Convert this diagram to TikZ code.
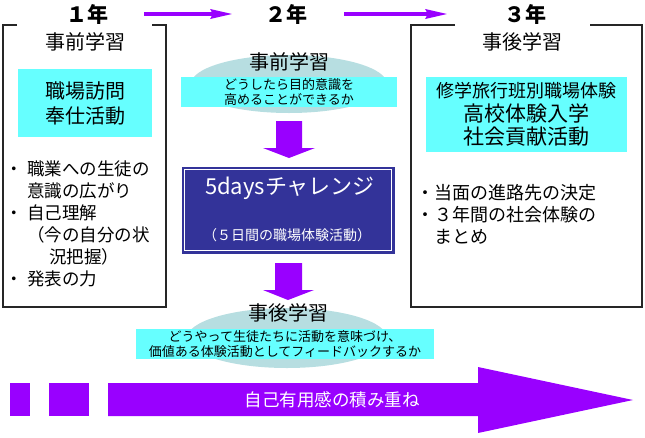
\documentclass[tikz,border=0pt]{standalone}
\usepackage{fontspec}
\setmainfont{Noto Sans CJK JP}
\usetikzlibrary{arrows.meta,shapes.geometric}
\definecolor{flowpurple}{HTML}{9900FF}
\definecolor{cardcyan}{HTML}{66FFFF}
\definecolor{ovalblue}{HTML}{B7DEE1}
\definecolor{boxnavy}{HTML}{333399}
\newcommand\itm{\makebox[22pt][l]{・}}
\newcommand\ind{\hspace*{22pt}}
\begin{document}
\begin{tikzpicture}[x=1pt,y=-1pt,
    year/.style={font=\bfseries\fontsize{21}{24}\selectfont},
    head/.style={font=\fontsize{20}{24}\selectfont},
    card/.style={fill=cardcyan,inner sep=0pt,align=center},
    oval/.style={ellipse,fill=ovalblue,inner sep=0pt},
    frame/.style={line width=1.2pt,black!85},
    link/.style={flowpurple,line width=4pt,-{Stealth[length=22pt,width=9pt,inset=2pt]}},
    list/.style={anchor=north west,inner sep=0pt,align=left}]
  \useasboundingbox (0,0) rectangle (645,437);
  % years
  \node[year] (y1) at (87,14) {１年};
  \node[year] (y2) at (286,14) {２年};
  \node[year] (y3) at (525,14) {３年};
  \coordinate (a1) at (144,14);
  \coordinate (b1) at (233,14);
  \coordinate (a2) at (344,14);
  \coordinate (b2) at (448,14);
  \draw[link] (a1) -- (b1);
  \draw[link] (a2) -- (b2);
  % first year
  \draw[frame] (17,25) -- (3,25) -- (3,307) -- (166,307) -- (166,25) -- (152,25);
  \node[head] (pre1) at (85,42) {事前学習};
  \node[card,minimum width=134pt,minimum height=68pt,
        font=\fontsize{20}{25}\selectfont] (c1) at (85,103) {職場訪問\\奉仕活動};
  \node[list,font=\fontsize{17.5}{22}\selectfont] (l1) at (5,161)
    {\itm 職業への生徒の\\\ind 意識の広がり\\\itm 自己理解\\\ind （今の自分の状\\\ind\ind 況把握）\\\itm 発表の力};
  % second year
  \node[oval,minimum width=196pt,minimum height=58pt] (e1) at (289,84) {};
  \node[head] (pre2) at (289,62) {事前学習};
  \node[card,minimum width=216pt,minimum height=30pt,
        font=\fontsize{13}{15}\selectfont] (c2) at (289,92) {どうしたら目的意識を\\高めることができるか};
  \fill[flowpurple] (276,121) -- (302,121) -- (302,148) -- (315,148) -- (289,158)
    -- (263,148) -- (276,148) -- cycle;
  \node[fill=boxnavy,draw=boxnavy,minimum width=212pt,minimum height=86pt] (days) at (288,210) {};
  \draw[white,line width=0.8pt] ([shift={(2.5,2.5)}]days.north west) rectangle ([shift={(-2.5,-2.5)}]days.south east);
  \node[white,font=\fontsize{22}{26}\selectfont] (d1) at (290,188) {5daysチャレンジ};
  \node[white,font=\fontsize{14}{17}\selectfont] (d2) at (287,235) {（５日間の職場体験活動）};
  \fill[flowpurple] (275,263) -- (302,263) -- (302,290) -- (314,290) -- (288,300)
    -- (263,290) -- (275,290) -- cycle;
  \node[oval,minimum width=200pt,minimum height=60pt] (e2) at (287,338) {};
  \node[head] (post2) at (288,313) {事後学習};
  \node[card,minimum width=298pt,minimum height=30pt,
        font=\fontsize{13}{15}\selectfont] (c3) at (285,344)
    {どうやって生徒たちに活動を意味づけ、\\価値ある体験活動としてフィードバックするか};
  % third year
  \draw[frame] (455,25) -- (411,25) -- (411,307) -- (642,307) -- (642,25) -- (590,25);
  \node[head] (post3) at (522,42) {事後学習};
  \node[card,minimum width=201pt,minimum height=75pt,
        font=\fontsize{21}{23.5}\selectfont] (c4) at (526.5,114.5)
    {\fontsize{18}{23.5}\selectfont 修学旅行班別職場体験\\高校体験入学\\社会貢献活動};
  \node[list,font=\fontsize{18}{22}\selectfont] (l3) at (416,184)
    {・当面の進路先の決定\\・３年間の社会体験の\\\hspace*{1em}まとめ};
  % growth arrow
  \fill[flowpurple] (10,383) rectangle (30,416);
  \fill[flowpurple] (49,383) rectangle (89,416);
  \fill[flowpurple] (108,383) -- (478,383) -- (478,367) -- (633,400) -- (478,433)
    -- (478,416) -- (108,416) -- cycle;
  \node[white,font=\fontsize{17.5}{21}\selectfont] (grow) at (332,400) {自己有用感の積み重ね};
\end{tikzpicture}
\end{document}
